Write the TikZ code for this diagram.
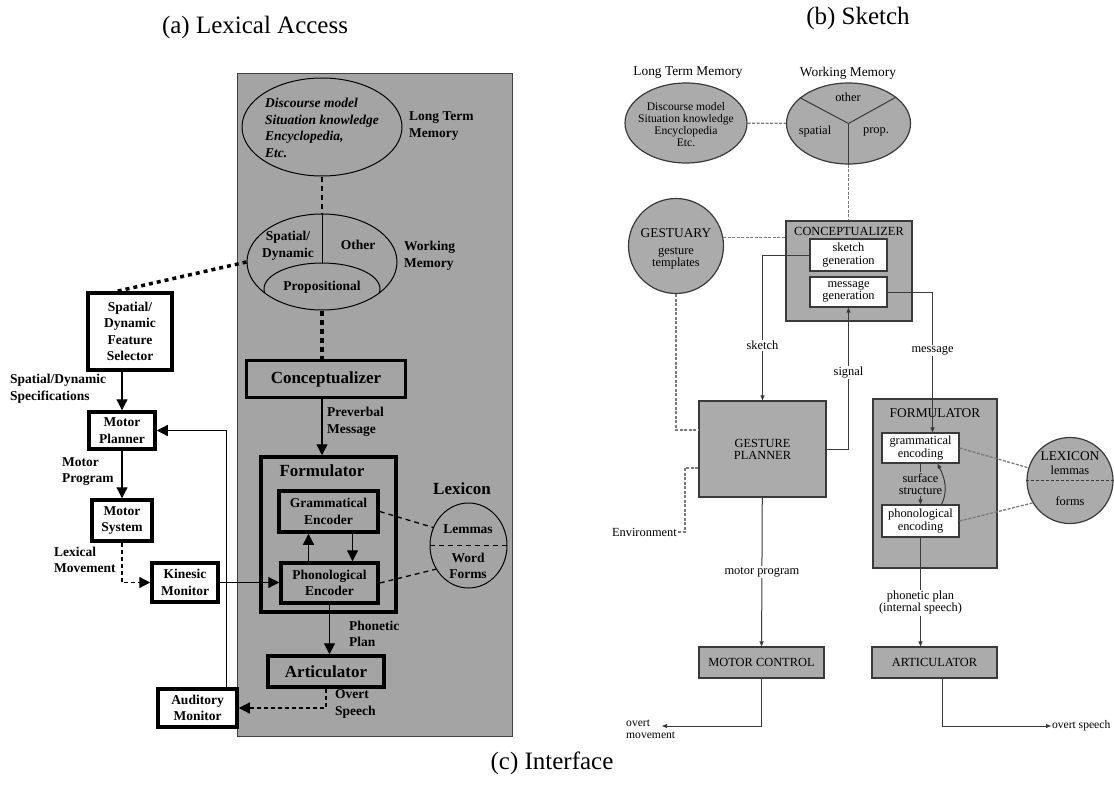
\documentclass[tikz,border=0pt]{standalone}
\usepackage{fontspec}
\setmainfont{Liberation Serif}
\usetikzlibrary{arrows.meta}
\usetikzlibrary{shapes.geometric}

\definecolor{agray}{HTML}{A4A4A4}
\definecolor{bgray}{HTML}{ABABAB}
\definecolor{blinecol}{HTML}{3A3A3A}
\definecolor{bdashcol}{HTML}{7A7A7A}
\newcommand{\fa}{\fontsize{13.5}{16.5}\selectfont\bfseries}
\newcommand{\fabig}{\fontsize{17}{20}\selectfont\bfseries}
\newcommand{\fb}{\fontsize{12.4}{12.2}\selectfont}
\newcommand{\fbsmall}{\fontsize{11.6}{12}\selectfont}
\newcommand{\fbbig}{\fontsize{13.4}{13}\selectfont}
\newcommand{\fcap}{\fontsize{25}{30}\selectfont}

\begin{document}
\begin{tikzpicture} [
        x=1pt, y=-1pt,
        abox/.style={draw, line width=3.5pt, fill=white, align=center, font=\fa, inner sep=1pt},
        agbox/.style={abox, fill=agray},
        aell/.style={draw, ellipse, line width=1pt, inner sep=0pt},
        atext/.style={font=\fa, align=center, inner sep=0pt},
        alabel/.style={font=\fa, align=left, anchor=west, inner sep=0pt},
        aarrow/.style={line width=1.2pt, -{Triangle[length=11pt,width=11pt]}},
        adash/.style={line width=1.3pt, dash pattern=on 5pt off 4pt},
        bbox/.style={draw=blinecol, line width=1.2pt, fill=bgray, align=center, font=\fb, inner sep=1pt},
        bwbox/.style={bbox, fill=white},
        bell/.style={draw=blinecol, ellipse, line width=1.2pt, fill=bgray, inner sep=0pt},
        btext/.style={font=\fb, align=center, inner sep=0pt},
        bconn/.style={draw=blinecol, line width=1pt},
        barrow/.style={bconn, -{Triangle[length=5pt,width=4pt]}},
        bdashed/.style={draw=bdashcol, line width=1.3pt, dash pattern=on 3pt off 1.5pt},
        blabel/.style={font=\fb, fill=white, inner sep=1pt, align=center} ]
    \useasboundingbox (0,0) rectangle (1114,787);

    % (a) lexical access
    \node[font=\fcap] (capa) at (255,27) {(a) Lexical Access};
    \node[draw=darkgray, fill=agray, line width=1pt, minimum width=275pt, minimum height=663pt] (panel) at (374.5,404.5) {};
    \node[aell, minimum width=160pt, minimum height=98pt] (ltma) at (322,127) {};
    \node[atext, align=left, font=\fa\itshape] (ltmtext) at (322,128) {Discourse model\\Situation knowledge\\Encyclopedia,\\Etc.};
    \node[alabel] (ltmlab) at (409,126) {Long Term\\Memory};
    \node[aell, minimum width=150pt, minimum height=96pt] (wma) at (322,262) {};
    \begin{scope}
        \clip (322,262) ellipse [x radius=75pt, y radius=48pt];
        \node[aell, minimum width=116pt, minimum height=52pt] (propa) at (322,289) {};
    \end{scope}
    \draw[line width=1pt] (wma.north) -- (propa.north);
    \node[atext] (spata) at (288,246) {Spatial/\\Dynamic};
    \node[atext] (othera) at (358,245) {Other};
    \node[atext] (proptext) at (322,287) {Propositional};
    \node[alabel] (wmlab) at (404,256) {Working\\Memory};
    \draw[adash] (ltma) -- (wma);

    \node[agbox, font=\fabig, minimum width=159pt, minimum height=37pt] (conca) at (326,379) {Conceptualizer};
    \draw[line width=3.5pt, dash pattern=on 5pt off 4pt] (wma.south) -- (wma.south |- conca.north);
    \node[agbox, minimum width=135pt, minimum height=155pt] (forma) at (328.5,534.5) {};
    \node[font=\fabig] (formlab) at (322,471) {Formulator};
    \draw[aarrow] (wma.south |- conca.south) -- (wma.south |- forma.north);
    \node[alabel] (prevlab) at (327,422) {Preverbal\\Message};
    \node[agbox, minimum width=99pt, minimum height=41pt] (grama) at (328.5,511.5) {Grammatical\\Encoder};
    \node[agbox, minimum width=97pt, minimum height=40pt] (phona) at (329.5,583) {Phonological\\Encoder};
    \draw[aarrow] ([xshift=-21pt]phona.north) -- ([xshift=-21pt]phona.north |- grama.south);
    \draw[aarrow] ([xshift=24pt]grama.south) -- ([xshift=24pt]grama.south |- phona.north);

    \node[aell, minimum width=77pt, minimum height=85pt] (lexa) at (468.5,545.5) {};
    \draw[adash] (lexa.west) -- (lexa.east);
    \node[font=\fabig] (lexlab) at (462,489) {Lexicon};
    \node[atext] (lemmas) at (468,529) {Lemmas};
    \node[atext] (wforms) at (468,566) {Word\\Forms};
    \draw[adash] (grama.east) -- (lexa.153);
    \draw[adash] (phona.east) -- (lexa.216);

    \node[agbox, font=\fabig, minimum width=116pt, minimum height=31pt] (arta) at (326,671.5) {Articulator};
    \draw[aarrow] (phona.south) -- (phona.south |- arta.north);
    \node[alabel] (phonlab) at (349,634) {Phonetic\\Plan};

    \node[abox, minimum width=84pt, minimum height=77pt] (fsel) at (130,331.5) {Spatial/\\Dynamic\\Feature\\Selector};
    \draw[line width=3.5pt, dash pattern=on 4pt off 4pt] (wma.west) -- ([xshift=-13pt]fsel.north);
    \node[abox, minimum width=66pt, minimum height=37pt] (mplan) at (122,430.5) {Motor\\Planner};
    \node[abox, minimum width=60pt, minimum height=41pt] (msys) at (122,520.5) {Motor\\System};
    \node[abox, minimum width=66pt, minimum height=39pt] (kines) at (185,582.5) {Kinesic\\Monitor};
    \node[abox, minimum width=79pt, minimum height=38pt] (audm) at (197.5,708) {Auditory\\Monitor};
    \draw[aarrow] (mplan.north |- fsel.south) -- (mplan.north);
    \node[alabel] (speclab) at (10,388.5) {Spatial/Dynamic\\Specifications};
    \draw[aarrow] (mplan) -- (msys);
    \node[alabel] (proglab) at (62,471.5) {Motor\\Program};
    \draw[aarrow, dash pattern=on 4pt off 3pt] (msys.south) |- (kines.west);
    \node[alabel] (movlab) at (54,560) {Lexical\\Movement};
    \draw[aarrow] (kines.east) -- (kines.east -| phona.west);
    \draw[aarrow] ([xshift=29pt]audm.north) |- (mplan.east);
    \draw[aarrow, dash pattern=on 4pt off 3pt] (arta.south) |- (audm.east);
    \node[alabel] (overtlab) at (335,704) {Overt\\Speech};

    % (b) sketch
    \node[font=\fcap] (capb) at (858,18) {(b) Sketch};
    \node[font=\fbbig] (ltmblab) at (688,73) {Long Term Memory};
    \node[font=\fbbig] (wmblab) at (848,73) {Working Memory};
    \node[bell, minimum width=122pt, minimum height=80pt] (ltmb) at (686,123) {};
    \node[btext, font=\fbsmall] (ltmbtext) at (686,125) {Discourse model\\Situation knowledge\\Encyclopedia\\Etc.};
    \node[bell, minimum width=124pt, minimum height=81pt] (wmb) at (848.5,123.5) {};
    \draw[bconn] (wmb.center) -- (wmb.152);
    \draw[bconn] (wmb.center) -- (wmb.29);
    \draw[bconn] (wmb.center) -- (wmb.south);
    \node[btext] (otherb) at (848,97) {other};
    \node[btext] (spatb) at (815,132) {spatial};
    \node[btext] (propb) at (876,132) {prop.};
    \draw[bdashed] (ltmb) -- (wmb);

    \node[bbox, minimum width=126pt, minimum height=100pt] (concb) at (849,271) {};
    \node[font=\fb] (conclab) at (849,231) {CONCEPTUALIZER};
    \node[bwbox, minimum width=77pt, minimum height=32pt] (skgen) at (848.5,255) {sketch\\generation};
    \node[bwbox, minimum width=77pt, minimum height=30pt] (msgen) at (848.5,292) {message\\generation};
    \draw[bdashed] (wmb.south) -- (wmb.south |- concb.north);

    \node[bell, circle, minimum size=95pt] (gest) at (676,246) {};
    \node[font=\fbbig] (gestlab) at (676,233) {GESTUARY};
    \node[btext] (gesttmp) at (676,258) {gesture\\templates};
    \draw[bdashed] (gest.10) -- (gest.10 -| concb.west);

    \node[bbox, minimum width=127pt, minimum height=96pt] (gplan) at (762.5,449) {GESTURE\\PLANNER};
    \draw[barrow] (skgen.west) -| node[blabel, pos=0.81] {sketch} (gplan.north);
    \draw[barrow] (gplan.east) -| node[blabel, pos=0.77] {signal} (msgen.south);
    \draw[bdashed] (gest.south) |- ([yshift=19pt]gplan.west);
    \node[btext, anchor=east] (envlab) at (677,532) {Environment};
    \coordinate (envbend) at (685,532);
    \draw[bdashed] ([yshift=-19pt]gplan.west) -| (envbend) -- (envlab.east);

    \node[bbox, minimum width=125pt, minimum height=31pt] (mctrl) at (761.5,662.5) {MOTOR CONTROL};
    \draw[barrow] (gplan) -- node[blabel] {motor program} (mctrl);
    \node[btext, font=\fbsmall, align=left, anchor=north west] (ovmove) at (626,720) {overt\\movement};
    \coordinate (ovend) at (662,726);
    \draw[barrow] (mctrl.south) |- (ovend);

    \node[bbox, minimum width=124pt, minimum height=169pt] (formb) at (935,483.5) {};
    \node[font=\fbbig] (formblab) at (935,413) {FORMULATOR};
    \node[bwbox, minimum width=77pt, minimum height=30pt] (gramb) at (920.5,448) {grammatical\\encoding};
    \node[bwbox, minimum width=77pt, minimum height=32pt] (phonb) at (920.5,521) {phonological\\encoding};
    \draw[barrow] (msgen.east) -| node[blabel, pos=0.71] {message} ([xshift=12pt]gramb.north);
    \draw[barrow] (gramb) -- node[blabel, fill=bgray] {surface\\structure} (phonb);
    \draw[barrow] ([xshift=21pt]phonb.north) .. controls +(7,-14) and +(7,14) .. ([xshift=17pt]gramb.south);

    \node[bell, circle, minimum size=86pt] (lexb) at (1070,480.5) {};
    \draw[draw=blinecol, line width=1pt, dash pattern=on 3pt off 2pt] (lexb.west) -- (lexb.east);
    \node[font=\fbbig] (lexblab) at (1070,456) {LEXICON};
    \node[btext] (lemmasb) at (1070,470) {lemmas};
    \node[btext] (formsb) at (1070,501) {forms};
    \draw[bdashed] (gramb.east) -- (lexb.163);
    \draw[bdashed] (phonb.east) -- (lexb.211);

    \node[bbox, minimum width=125pt, minimum height=31pt] (artb) at (934.5,662.5) {ARTICULATOR};
    \draw[barrow] (phonb.south) -- node[blabel, pos=0.6] {phonetic plan\\(internal speech)} (phonb.south |- artb.north);
    \coordinate (osend) at (1051,726);
    \draw[barrow] ([xshift=8pt]artb.south) |- (osend);
    \node[btext, font=\fbsmall, anchor=west, inner sep=0.8pt] (ovspeech) at (osend) {overt speech};

    % (c)
    \node[font=\fcap] (capc) at (552,763) {(c) Interface};
\end{tikzpicture}
\end{document}
